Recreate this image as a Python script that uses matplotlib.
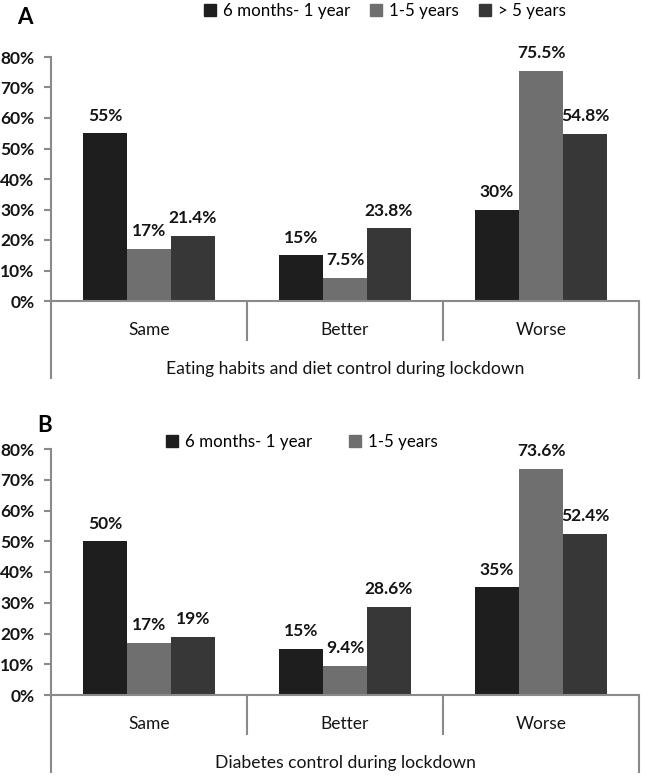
import matplotlib
matplotlib.use("Agg")
import matplotlib.pyplot as plt
from matplotlib.patches import Patch

plt.rcParams['font.family'] = ['Lato', 'DejaVu Sans']

categories = ['Same', 'Better', 'Worse']
series_names = ['6 months- 1 year', '1-5 years', '> 5 years']
colors = ['#1e1e1e', '#6f6f6f', '#373737']

# panel A: eating habits and diet control
eating_6m_1y = [55, 15, 30]
eating_1_5y = [17, 7.5, 75.5]
eating_gt5y = [21.4, 23.8, 54.8]

# panel B: diabetes control
diabetes_6m_1y = [50, 15, 35]
diabetes_1_5y = [17, 9.4, 73.6]
diabetes_gt5y = [19, 28.6, 52.4]

yticks = [0, 10, 20, 30, 40, 50, 60, 70, 80]
grey = '#8a8a8a'
ink = '#141414'

W, H = 645, 779
fig = plt.figure(figsize=(W / 100, H / 100), dpi=100)


def draw_panel(top_px, bottom_px, series, xlabel):
    ax = fig.add_axes([51 / W, 1 - bottom_px / H, 588 / W, (bottom_px - top_px) / H])
    width = 0.2245
    offsets = [-width, 0, width]
    for vals, off, col in zip(series, offsets, colors):
        xs = [i + off for i in range(len(categories))]
        ax.bar(xs, vals, width=width, color=col, edgecolor='none')
        for x, v in zip(xs, vals):
            ax.annotate(f"{v:g}%", (x, v), xytext=(0, 7), textcoords='offset points',
                        ha='center', va='bottom', fontsize=12.5, fontweight='bold',
                        color=ink)
    ax.set_xlim(-0.5, len(categories) - 0.5)
    ax.set_ylim(0, 80)
    ax.set_yticks(yticks)
    ax.set_yticklabels([f"{t}%" for t in yticks], fontsize=12.5, fontweight='bold',
                       color=ink)
    ax.set_xticks([])
    for s in ['top', 'right']:
        ax.spines[s].set_visible(False)
    for s in ['left', 'bottom']:
        ax.spines[s].set_color(grey)
        ax.spines[s].set_linewidth(1.5)
    ax.tick_params(axis='y', direction='out', length=5, width=1.5, color=grey, pad=7)

    # category table under the axis
    h = ax.bbox.height
    trans = ax.get_xaxis_transform()
    for xb in [-0.5, len(categories) - 0.5]:
        ax.plot([xb, xb], [0, -78 / h], transform=trans, color=grey, lw=1.5,
                clip_on=False, solid_capstyle='butt')
    for xb in range(1, len(categories)):
        ax.plot([xb - 0.5, xb - 0.5], [0, -40 / h], transform=trans, color=grey,
                lw=1.5, clip_on=False, solid_capstyle='butt')
    for i, c in enumerate(categories):
        ax.text(i, -29 / h, c, transform=trans, ha='center', va='center',
                fontsize=12.5, color=ink)
    ax.text(1, -68 / h, xlabel, transform=trans, ha='center', va='center',
            fontsize=12.6, color=ink)
    return ax


draw_panel(57, 301, [eating_6m_1y, eating_1_5y, eating_gt5y],
           'Eating habits and diet control during lockdown')
draw_panel(449, 695, [diabetes_6m_1y, diabetes_1_5y, diabetes_gt5y],
           'Diabetes control during lockdown')

fig.text(25 / W, 1 - 17 / H, 'A', fontsize=16, fontweight='bold', ha='center', va='center')
fig.text(45 / W, 1 - 425 / H, 'B', fontsize=16, fontweight='bold', ha='center', va='center')

handles = [Patch(color=c, label=n) for c, n in zip(colors, series_names)]
fig.legend(handles=handles, loc='center', bbox_to_anchor=(385 / W, 1 - 11 / H), ncol=3,
           frameon=False, fontsize=12.2, handlelength=0.7, handleheight=0.7,
           handletextpad=0.4, columnspacing=1.2, borderpad=0)
# the original figure only lists the first two series in panel B
fig.legend(handles=handles[:2], loc='center', bbox_to_anchor=(302 / W, 1 - 442 / H), ncol=2,
           frameon=False, fontsize=12.2, handlelength=0.7, handleheight=0.7,
           handletextpad=0.4, columnspacing=2.2, borderpad=0)

fig.savefig('out.png', dpi=100)
